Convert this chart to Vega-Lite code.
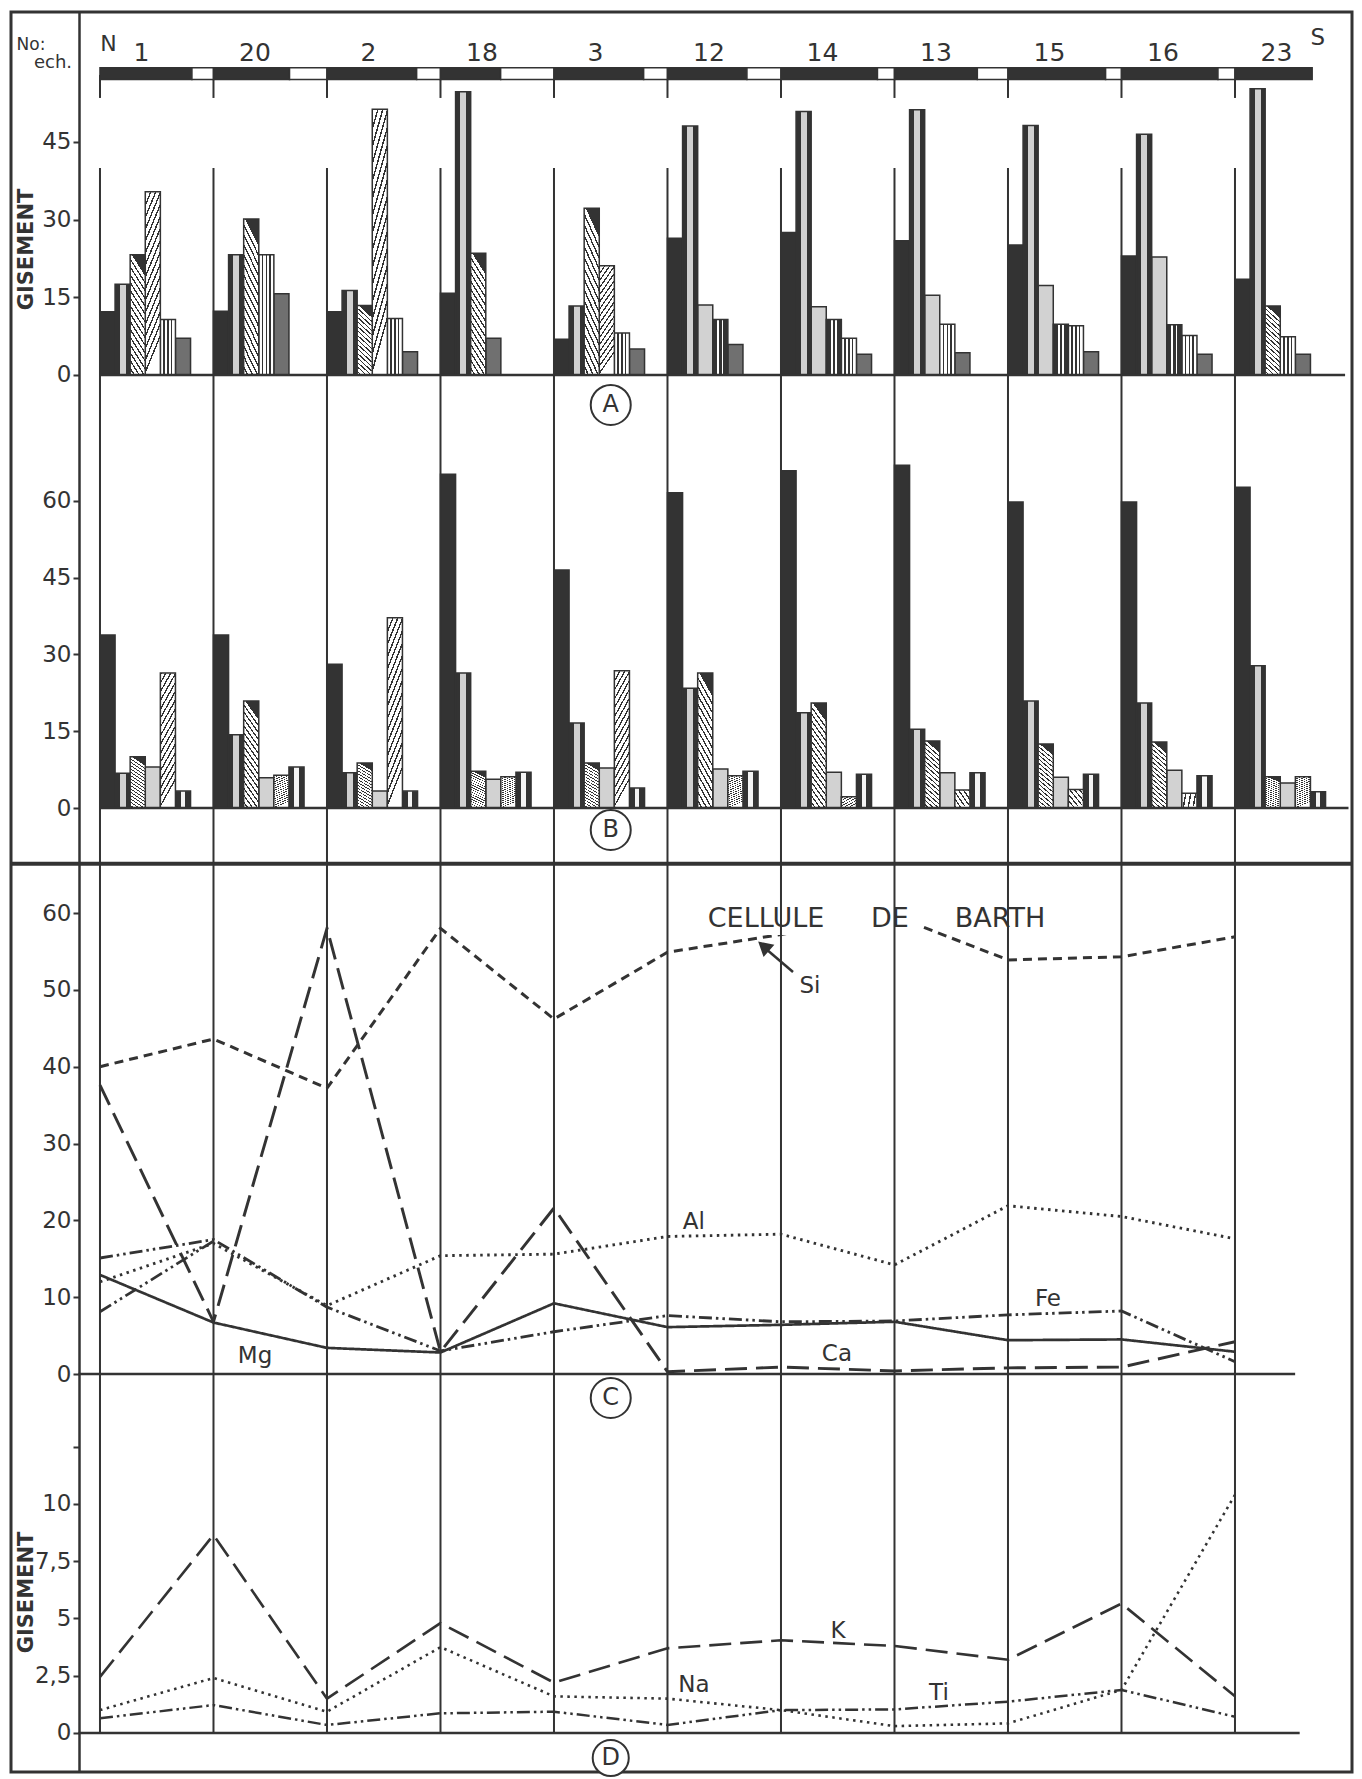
{
"$schema": "https://vega.github.io/schema/vega-lite/v6.json",
"width": 1341, "height": 1760,
"autosize": "none",
"padding": {"left": 11, "top": 12, "right": 10, "bottom": 7},
"background": "#ffffff",
"config": {"view": {"stroke": "#333333", "strokeWidth": 3}, "font": "DejaVu Sans"},
"datasets": {
"ech": [{"ech":"1","i":0},{"ech":"20","i":1},{"ech":"2","i":2},{"ech":"18","i":3},{"ech":"3","i":4},{"ech":"12","i":5},{"ech":"14","i":6},{"ech":"13","i":7},{"ech":"15","i":8},{"ech":"16","i":9},{"ech":"23","i":10}],
"bande": [
{"s":1,"part":"noir","f":0.81},{"s":2,"part":"blanc","f":0.19},
{"s":3,"part":"noir","f":0.67},{"s":4,"part":"blanc","f":0.33},
{"s":5,"part":"noir","f":0.79},{"s":6,"part":"blanc","f":0.21},
{"s":7,"part":"noir","f":0.53},{"s":8,"part":"blanc","f":0.47},
{"s":9,"part":"noir","f":0.79},{"s":10,"part":"blanc","f":0.21},
{"s":11,"part":"noir","f":0.70},{"s":12,"part":"blanc","f":0.30},
{"s":13,"part":"noir","f":0.85},{"s":14,"part":"blanc","f":0.15},
{"s":15,"part":"noir","f":0.73},{"s":16,"part":"blanc","f":0.27},
{"s":17,"part":"noir","f":0.86},{"s":18,"part":"blanc","f":0.14},
{"s":19,"part":"noir","f":0.85},{"s":20,"part":"blanc","f":0.15},
{"s":21,"part":"noir","f":0.68}],
"barres": [
{"p":"A","ech":"1","rang":1,"motif":"noir","v":12.2},{"p":"A","ech":"1","rang":2,"motif":"cercles","v":17.5},{"p":"A","ech":"1","rang":3,"motif":"hach_g","v":23.2},{"p":"A","ech":"1","rang":4,"motif":"hach_d","v":35.4},{"p":"A","ech":"1","rang":5,"motif":"vert","v":10.7},{"p":"A","ech":"1","rang":6,"motif":"crois","v":7.1},
{"p":"A","ech":"20","rang":1,"motif":"noir","v":12.3},{"p":"A","ech":"20","rang":2,"motif":"cercles","v":23.2},{"p":"A","ech":"20","rang":3,"motif":"hach_g","v":30.1},{"p":"A","ech":"20","rang":4,"motif":"vert","v":23.2},{"p":"A","ech":"20","rang":5,"motif":"crois","v":15.7},
{"p":"A","ech":"2","rang":1,"motif":"noir","v":12.2},{"p":"A","ech":"2","rang":2,"motif":"cercles","v":16.3},{"p":"A","ech":"2","rang":3,"motif":"hach_g","v":13.4},{"p":"A","ech":"2","rang":4,"motif":"hach_d","v":51.3},{"p":"A","ech":"2","rang":5,"motif":"vert","v":10.9},{"p":"A","ech":"2","rang":6,"motif":"crois","v":4.5},
{"p":"A","ech":"18","rang":1,"motif":"noir","v":15.8},{"p":"A","ech":"18","rang":2,"motif":"cercles","v":54.7},{"p":"A","ech":"18","rang":3,"motif":"hach_g","v":23.5},{"p":"A","ech":"18","rang":4,"motif":"crois","v":7.1},
{"p":"A","ech":"3","rang":1,"motif":"noir","v":6.9},{"p":"A","ech":"3","rang":2,"motif":"cercles","v":13.3},{"p":"A","ech":"3","rang":3,"motif":"hach_g","v":32.2},{"p":"A","ech":"3","rang":4,"motif":"hach_d","v":21.1},{"p":"A","ech":"3","rang":5,"motif":"vert","v":8.1},{"p":"A","ech":"3","rang":6,"motif":"crois","v":5.0},
{"p":"A","ech":"12","rang":1,"motif":"noir","v":26.4},{"p":"A","ech":"12","rang":2,"motif":"cercles","v":48.1},{"p":"A","ech":"12","rang":3,"motif":"point","v":13.5},{"p":"A","ech":"12","rang":4,"motif":"vert_s","v":10.7},{"p":"A","ech":"12","rang":5,"motif":"crois","v":5.9},
{"p":"A","ech":"14","rang":1,"motif":"noir","v":27.5},{"p":"A","ech":"14","rang":2,"motif":"cercles","v":50.9},{"p":"A","ech":"14","rang":3,"motif":"point","v":13.2},{"p":"A","ech":"14","rang":4,"motif":"vert_s","v":10.7},{"p":"A","ech":"14","rang":5,"motif":"vert","v":7.1},{"p":"A","ech":"14","rang":6,"motif":"crois","v":4.0},
{"p":"A","ech":"13","rang":1,"motif":"noir","v":25.9},{"p":"A","ech":"13","rang":2,"motif":"cercles","v":51.2},{"p":"A","ech":"13","rang":3,"motif":"point","v":15.4},{"p":"A","ech":"13","rang":4,"motif":"vert","v":9.8},{"p":"A","ech":"13","rang":5,"motif":"crois","v":4.3},
{"p":"A","ech":"15","rang":1,"motif":"noir","v":25.1},{"p":"A","ech":"15","rang":2,"motif":"cercles","v":48.2},{"p":"A","ech":"15","rang":3,"motif":"point","v":17.3},{"p":"A","ech":"15","rang":4,"motif":"vert_s","v":9.8},{"p":"A","ech":"15","rang":5,"motif":"vert","v":9.5},{"p":"A","ech":"15","rang":6,"motif":"crois","v":4.5},
{"p":"A","ech":"16","rang":1,"motif":"noir","v":23.0},{"p":"A","ech":"16","rang":2,"motif":"cercles","v":46.5},{"p":"A","ech":"16","rang":3,"motif":"point","v":22.8},{"p":"A","ech":"16","rang":4,"motif":"vert_s","v":9.7},{"p":"A","ech":"16","rang":5,"motif":"vert","v":7.6},{"p":"A","ech":"16","rang":6,"motif":"crois","v":4.0},
{"p":"A","ech":"23","rang":1,"motif":"noir","v":18.5},{"p":"A","ech":"23","rang":2,"motif":"cercles","v":55.3},{"p":"A","ech":"23","rang":3,"motif":"hach_g","v":13.3},{"p":"A","ech":"23","rang":4,"motif":"vert","v":7.4},{"p":"A","ech":"23","rang":5,"motif":"crois","v":4.0},
{"p":"B","ech":"1","rang":1,"motif":"noir","v":33.8},{"p":"B","ech":"1","rang":2,"motif":"cercles","v":6.8},{"p":"B","ech":"1","rang":3,"motif":"hach_g","v":10.0},{"p":"B","ech":"1","rang":4,"motif":"point","v":8.0},{"p":"B","ech":"1","rang":5,"motif":"hach_d","v":26.4},{"p":"B","ech":"1","rang":6,"motif":"chaine","v":3.3},
{"p":"B","ech":"20","rang":1,"motif":"noir","v":33.8},{"p":"B","ech":"20","rang":2,"motif":"cercles","v":14.3},{"p":"B","ech":"20","rang":3,"motif":"hach_g","v":20.9},{"p":"B","ech":"20","rang":4,"motif":"point","v":5.9},{"p":"B","ech":"20","rang":5,"motif":"hach_d","v":6.4},{"p":"B","ech":"20","rang":6,"motif":"chaine","v":8.0},
{"p":"B","ech":"2","rang":1,"motif":"noir","v":28.1},{"p":"B","ech":"2","rang":2,"motif":"cercles","v":6.9},{"p":"B","ech":"2","rang":3,"motif":"hach_g","v":8.8},{"p":"B","ech":"2","rang":4,"motif":"point","v":3.3},{"p":"B","ech":"2","rang":5,"motif":"hach_d","v":37.2},{"p":"B","ech":"2","rang":6,"motif":"chaine","v":3.3},
{"p":"B","ech":"18","rang":1,"motif":"noir","v":65.2},{"p":"B","ech":"18","rang":2,"motif":"cercles","v":26.4},{"p":"B","ech":"18","rang":3,"motif":"hach_g","v":7.2},{"p":"B","ech":"18","rang":4,"motif":"point","v":5.6},{"p":"B","ech":"18","rang":5,"motif":"hach_d","v":6.1},{"p":"B","ech":"18","rang":6,"motif":"chaine","v":7.0},
{"p":"B","ech":"3","rang":1,"motif":"noir","v":46.5},{"p":"B","ech":"3","rang":2,"motif":"cercles","v":16.6},{"p":"B","ech":"3","rang":3,"motif":"hach_g","v":8.8},{"p":"B","ech":"3","rang":4,"motif":"point","v":7.8},{"p":"B","ech":"3","rang":5,"motif":"hach_d","v":26.8},{"p":"B","ech":"3","rang":6,"motif":"chaine","v":3.9},
{"p":"B","ech":"12","rang":1,"motif":"noir","v":61.6},{"p":"B","ech":"12","rang":2,"motif":"cercles","v":23.4},{"p":"B","ech":"12","rang":3,"motif":"hach_g","v":26.4},{"p":"B","ech":"12","rang":4,"motif":"point","v":7.6},{"p":"B","ech":"12","rang":5,"motif":"hach_d","v":6.3},{"p":"B","ech":"12","rang":6,"motif":"chaine","v":7.2},
{"p":"B","ech":"14","rang":1,"motif":"noir","v":65.9},{"p":"B","ech":"14","rang":2,"motif":"cercles","v":18.6},{"p":"B","ech":"14","rang":3,"motif":"hach_g","v":20.5},{"p":"B","ech":"14","rang":4,"motif":"point","v":7.0},{"p":"B","ech":"14","rang":5,"motif":"hach_d","v":2.2},{"p":"B","ech":"14","rang":6,"motif":"chaine","v":6.6},
{"p":"B","ech":"13","rang":1,"motif":"noir","v":67.0},{"p":"B","ech":"13","rang":2,"motif":"cercles","v":15.4},{"p":"B","ech":"13","rang":3,"motif":"hach_g","v":13.1},{"p":"B","ech":"13","rang":4,"motif":"point","v":6.9},{"p":"B","ech":"13","rang":5,"motif":"hach_d","v":3.5},{"p":"B","ech":"13","rang":6,"motif":"chaine","v":6.9},
{"p":"B","ech":"15","rang":1,"motif":"noir","v":59.8},{"p":"B","ech":"15","rang":2,"motif":"cercles","v":20.9},{"p":"B","ech":"15","rang":3,"motif":"hach_g","v":12.5},{"p":"B","ech":"15","rang":4,"motif":"point","v":6.0},{"p":"B","ech":"15","rang":5,"motif":"hach_d","v":3.6},{"p":"B","ech":"15","rang":6,"motif":"chaine","v":6.6},
{"p":"B","ech":"16","rang":1,"motif":"noir","v":59.8},{"p":"B","ech":"16","rang":2,"motif":"cercles","v":20.5},{"p":"B","ech":"16","rang":3,"motif":"hach_g","v":12.9},{"p":"B","ech":"16","rang":4,"motif":"point","v":7.4},{"p":"B","ech":"16","rang":5,"motif":"hach_d","v":2.9},{"p":"B","ech":"16","rang":6,"motif":"chaine","v":6.3},
{"p":"B","ech":"23","rang":1,"motif":"noir","v":62.7},{"p":"B","ech":"23","rang":2,"motif":"cercles","v":27.8},{"p":"B","ech":"23","rang":3,"motif":"hach_g","v":6.1},{"p":"B","ech":"23","rang":4,"motif":"point","v":4.9},{"p":"B","ech":"23","rang":5,"motif":"hach_d","v":6.1},{"p":"B","ech":"23","rang":6,"motif":"chaine","v":3.2}],
"courbes": [
{"p":"C","el":"Si","ech":"1","i":0,"v":40.0},{"p":"C","el":"Si","ech":"20","i":1,"v":43.6},{"p":"C","el":"Si","ech":"2","i":2,"v":37.2},{"p":"C","el":"Si","ech":"18","i":3,"v":58.0},{"p":"C","el":"Si","ech":"3","i":4,"v":46.2},{"p":"C","el":"Si","ech":"12","i":5,"v":54.9},{"p":"C","el":"Si","ech":"14","i":6,"v":57.2},{"p":"C","el":"Si","ech":"13","i":7,"v":59.6},{"p":"C","el":"Si","ech":"15","i":8,"v":53.9},{"p":"C","el":"Si","ech":"16","i":9,"v":54.3},{"p":"C","el":"Si","ech":"23","i":10,"v":56.9},
{"p":"C","el":"Ca","ech":"1","i":0,"v":37.6},{"p":"C","el":"Ca","ech":"20","i":1,"v":6.8},{"p":"C","el":"Ca","ech":"2","i":2,"v":58.0},{"p":"C","el":"Ca","ech":"18","i":3,"v":2.9},{"p":"C","el":"Ca","ech":"3","i":4,"v":21.6},{"p":"C","el":"Ca","ech":"12","i":5,"v":0.3},{"p":"C","el":"Ca","ech":"14","i":6,"v":0.9},{"p":"C","el":"Ca","ech":"13","i":7,"v":0.4},{"p":"C","el":"Ca","ech":"15","i":8,"v":0.8},{"p":"C","el":"Ca","ech":"16","i":9,"v":0.9},{"p":"C","el":"Ca","ech":"23","i":10,"v":4.2},
{"p":"C","el":"Al","ech":"1","i":0,"v":12.0},{"p":"C","el":"Al","ech":"20","i":1,"v":17.0},{"p":"C","el":"Al","ech":"2","i":2,"v":8.9},{"p":"C","el":"Al","ech":"18","i":3,"v":15.4},{"p":"C","el":"Al","ech":"3","i":4,"v":15.6},{"p":"C","el":"Al","ech":"12","i":5,"v":17.9},{"p":"C","el":"Al","ech":"14","i":6,"v":18.2},{"p":"C","el":"Al","ech":"13","i":7,"v":14.2},{"p":"C","el":"Al","ech":"15","i":8,"v":21.9},{"p":"C","el":"Al","ech":"16","i":9,"v":20.5},{"p":"C","el":"Al","ech":"23","i":10,"v":17.6},
{"p":"C","el":"Fe","ech":"1","i":0,"v":15.1},{"p":"C","el":"Fe","ech":"20","i":1,"v":17.5},{"p":"C","el":"Fe","ech":"2","i":2,"v":8.7},{"p":"C","el":"Fe","ech":"18","i":3,"v":3.0},{"p":"C","el":"Fe","ech":"3","i":4,"v":5.5},{"p":"C","el":"Fe","ech":"12","i":5,"v":7.6},{"p":"C","el":"Fe","ech":"14","i":6,"v":6.8},{"p":"C","el":"Fe","ech":"13","i":7,"v":6.9},{"p":"C","el":"Fe","ech":"15","i":8,"v":7.7},{"p":"C","el":"Fe","ech":"16","i":9,"v":8.2},{"p":"C","el":"Fe","ech":"23","i":10,"v":1.6},
{"p":"C","el":"Fe2","ech":"1","i":0,"v":8.1},{"p":"C","el":"Fe2","ech":"20","i":1,"v":17.3},
{"p":"C","el":"Mg","ech":"1","i":0,"v":12.9},{"p":"C","el":"Mg","ech":"20","i":1,"v":6.7},{"p":"C","el":"Mg","ech":"2","i":2,"v":3.4},{"p":"C","el":"Mg","ech":"18","i":3,"v":2.8},{"p":"C","el":"Mg","ech":"3","i":4,"v":9.2},{"p":"C","el":"Mg","ech":"12","i":5,"v":6.1},{"p":"C","el":"Mg","ech":"14","i":6,"v":6.4},{"p":"C","el":"Mg","ech":"13","i":7,"v":6.8},{"p":"C","el":"Mg","ech":"15","i":8,"v":4.4},{"p":"C","el":"Mg","ech":"16","i":9,"v":4.5},{"p":"C","el":"Mg","ech":"23","i":10,"v":2.9},
{"p":"D","el":"K","ech":"1","i":0,"v":2.45},{"p":"D","el":"K","ech":"20","i":1,"v":8.65},{"p":"D","el":"K","ech":"2","i":2,"v":1.5},{"p":"D","el":"K","ech":"18","i":3,"v":4.8},{"p":"D","el":"K","ech":"3","i":4,"v":2.2},{"p":"D","el":"K","ech":"12","i":5,"v":3.7},{"p":"D","el":"K","ech":"14","i":6,"v":4.05},{"p":"D","el":"K","ech":"13","i":7,"v":3.8},{"p":"D","el":"K","ech":"15","i":8,"v":3.2},{"p":"D","el":"K","ech":"16","i":9,"v":5.65},{"p":"D","el":"K","ech":"23","i":10,"v":1.6},
{"p":"D","el":"Na","ech":"1","i":0,"v":1.0},{"p":"D","el":"Na","ech":"20","i":1,"v":2.4},{"p":"D","el":"Na","ech":"2","i":2,"v":0.93},{"p":"D","el":"Na","ech":"18","i":3,"v":3.75},{"p":"D","el":"Na","ech":"3","i":4,"v":1.6},{"p":"D","el":"Na","ech":"12","i":5,"v":1.5},{"p":"D","el":"Na","ech":"14","i":6,"v":1.0},{"p":"D","el":"Na","ech":"13","i":7,"v":0.3},{"p":"D","el":"Na","ech":"15","i":8,"v":0.42},{"p":"D","el":"Na","ech":"16","i":9,"v":1.88},{"p":"D","el":"Na","ech":"23","i":10,"v":10.4},
{"p":"D","el":"Ti","ech":"1","i":0,"v":0.64},{"p":"D","el":"Ti","ech":"20","i":1,"v":1.22},{"p":"D","el":"Ti","ech":"2","i":2,"v":0.35},{"p":"D","el":"Ti","ech":"18","i":3,"v":0.86},{"p":"D","el":"Ti","ech":"3","i":4,"v":0.93},{"p":"D","el":"Ti","ech":"12","i":5,"v":0.35},{"p":"D","el":"Ti","ech":"14","i":6,"v":1.0},{"p":"D","el":"Ti","ech":"13","i":7,"v":1.03},{"p":"D","el":"Ti","ech":"15","i":8,"v":1.37},{"p":"D","el":"Ti","ech":"16","i":9,"v":1.88},{"p":"D","el":"Ti","ech":"23","i":10,"v":0.71}]
},
"layer": [
{
"resolve": {"scale": {"y": "independent"}},
"layer": [
{
"layer": [
{"data":{"name":"barres"},"transform":[{"filter":"datum.p == 'A' && (datum.motif == 'noir' || datum.motif == 'point' || datum.motif == 'crois')"}],
 "mark":{"type":"bar","stroke":"#333333","strokeWidth":1.5},
 "encoding":{
  "x":{"field":"ech","type":"nominal","scale":{"type":"band","domain":["1","20","2","18","3","12","14","13","15","16","23"],"paddingInner":0,"paddingOuter":0.4075,"align":0.962},"axis":null},
  "xOffset":{"field":"rang","type":"ordinal","scale":{"type":"band","domain":[1,2,3,4,5,6],"paddingInner":0,"paddingOuter":0.76,"align":0}},
  "y":{"field":"v","type":"quantitative","scale":{"domain":[-269.8,70.1],"nice":false,"zero":false},
   "axis":{"orient":"left","offset":-68,"values":[0,15,30,45],"format":".0f","title":"GISEMENT","titleX":-53,"titleY":237,"titleAngle":270,"titleAlign":"center","titleBaseline":"middle","titleFontSize":21,"titleFontWeight":"bold","titleFont":"DejaVu Sans","titleColor":"#333333","labelFontSize":23,"labelFont":"DejaVu Sans","labelColor":"#333333","labelPadding":2,"tickSize":6,"tickWidth":2,"tickColor":"#333333","domain":true,"domainColor":"#333333","domainWidth":2.5,"grid":false}},
  "y2":{"datum":0},
  "fill":{"field":"motif","type":"nominal","scale":{"domain":["noir","point","crois"],"range":["#333333","#d2d2d2","#707070"]},"legend":null}}},
{"data":{"name":"barres"},"transform":[{"filter":"datum.p == 'A' && datum.motif == 'cercles'"}],
 "mark":{"type":"bar","stroke":"#333333","strokeWidth":1.5,"fill":{"gradient":"linear","x1":0,"y1":0,"x2":1,"y2":0,"stops":[{"offset":0,"color":"#333333"},{"offset":0.3,"color":"#333333"},{"offset":0.3,"color":"#d0d0d0"},{"offset":0.7,"color":"#d0d0d0"},{"offset":0.7,"color":"#333333"},{"offset":1,"color":"#333333"}]}},
 "encoding":{
  "x":{"field":"ech","type":"nominal","scale":{"type":"band","domain":["1","20","2","18","3","12","14","13","15","16","23"],"paddingInner":0,"paddingOuter":0.4075,"align":0.962},"axis":null},
  "xOffset":{"field":"rang","type":"ordinal","scale":{"type":"band","domain":[1,2,3,4,5,6],"paddingInner":0,"paddingOuter":0.76,"align":0}},
  "y":{"field":"v","type":"quantitative","scale":{"domain":[-269.8,70.1],"nice":false,"zero":false}},
  "y2":{"datum":0}}},
{"data":{"name":"barres"},"transform":[{"filter":"datum.p == 'A' && datum.motif == 'vert'"}],
 "mark":{"type":"bar","stroke":"#333333","strokeWidth":1.5,"fill":{"gradient":"linear","x1":0,"y1":0,"x2":1,"y2":0,"stops":[{"offset":0,"color":"#ffffff"},{"offset":0.2,"color":"#ffffff"},{"offset":0.2,"color":"#333333"},{"offset":0.3,"color":"#333333"},{"offset":0.3,"color":"#ffffff"},{"offset":0.45,"color":"#ffffff"},{"offset":0.45,"color":"#333333"},{"offset":0.55,"color":"#333333"},{"offset":0.55,"color":"#ffffff"},{"offset":0.7,"color":"#ffffff"},{"offset":0.7,"color":"#333333"},{"offset":0.8,"color":"#333333"},{"offset":0.8,"color":"#ffffff"},{"offset":1,"color":"#ffffff"}]}},
 "encoding":{
  "x":{"field":"ech","type":"nominal","scale":{"type":"band","domain":["1","20","2","18","3","12","14","13","15","16","23"],"paddingInner":0,"paddingOuter":0.4075,"align":0.962},"axis":null},
  "xOffset":{"field":"rang","type":"ordinal","scale":{"type":"band","domain":[1,2,3,4,5,6],"paddingInner":0,"paddingOuter":0.76,"align":0}},
  "y":{"field":"v","type":"quantitative","scale":{"domain":[-269.8,70.1],"nice":false,"zero":false}},
  "y2":{"datum":0}}},
{"data":{"name":"barres"},"transform":[{"filter":"datum.p == 'A' && datum.motif == 'vert_s'"}],
 "mark":{"type":"bar","stroke":"#333333","strokeWidth":1.5,"fill":{"gradient":"linear","x1":0,"y1":0,"x2":1,"y2":0,"stops":[{"offset":0,"color":"#333333"},{"offset":0.3,"color":"#333333"},{"offset":0.3,"color":"#ffffff"},{"offset":0.42,"color":"#ffffff"},{"offset":0.42,"color":"#333333"},{"offset":0.58,"color":"#333333"},{"offset":0.58,"color":"#ffffff"},{"offset":0.7,"color":"#ffffff"},{"offset":0.7,"color":"#333333"},{"offset":1,"color":"#333333"}]}},
 "encoding":{
  "x":{"field":"ech","type":"nominal","scale":{"type":"band","domain":["1","20","2","18","3","12","14","13","15","16","23"],"paddingInner":0,"paddingOuter":0.4075,"align":0.962},"axis":null},
  "xOffset":{"field":"rang","type":"ordinal","scale":{"type":"band","domain":[1,2,3,4,5,6],"paddingInner":0,"paddingOuter":0.76,"align":0}},
  "y":{"field":"v","type":"quantitative","scale":{"domain":[-269.8,70.1],"nice":false,"zero":false}},
  "y2":{"datum":0}}},
{"data":{"name":"barres"},"transform":[{"filter":"datum.p == 'A' && datum.motif == 'hach_d'"}],
 "mark":{"type":"bar","stroke":"#333333","strokeWidth":1.5,"fill":{"gradient":"linear","x1":0,"y1":0,"x2":0.2,"y2":1,"stops":[{"offset":0,"color":"#333333"},{"offset":0.01875,"color":"#333333"},{"offset":0.01875,"color":"#ffffff"},{"offset":0.0625,"color":"#ffffff"},{"offset":0.0625,"color":"#333333"},{"offset":0.08125,"color":"#333333"},{"offset":0.08125,"color":"#ffffff"},{"offset":0.125,"color":"#ffffff"},{"offset":0.125,"color":"#333333"},{"offset":0.14375,"color":"#333333"},{"offset":0.14375,"color":"#ffffff"},{"offset":0.1875,"color":"#ffffff"},{"offset":0.1875,"color":"#333333"},{"offset":0.20625,"color":"#333333"},{"offset":0.20625,"color":"#ffffff"},{"offset":0.25,"color":"#ffffff"},{"offset":0.25,"color":"#333333"},{"offset":0.26875,"color":"#333333"},{"offset":0.26875,"color":"#ffffff"},{"offset":0.3125,"color":"#ffffff"},{"offset":0.3125,"color":"#333333"},{"offset":0.33125,"color":"#333333"},{"offset":0.33125,"color":"#ffffff"},{"offset":0.375,"color":"#ffffff"},{"offset":0.375,"color":"#333333"},{"offset":0.39375,"color":"#333333"},{"offset":0.39375,"color":"#ffffff"},{"offset":0.4375,"color":"#ffffff"},{"offset":0.4375,"color":"#333333"},{"offset":0.45625,"color":"#333333"},{"offset":0.45625,"color":"#ffffff"},{"offset":0.5,"color":"#ffffff"},{"offset":0.5,"color":"#333333"},{"offset":0.51875,"color":"#333333"},{"offset":0.51875,"color":"#ffffff"},{"offset":0.5625,"color":"#ffffff"},{"offset":0.5625,"color":"#333333"},{"offset":0.58125,"color":"#333333"},{"offset":0.58125,"color":"#ffffff"},{"offset":0.625,"color":"#ffffff"},{"offset":0.625,"color":"#333333"},{"offset":0.64375,"color":"#333333"},{"offset":0.64375,"color":"#ffffff"},{"offset":0.6875,"color":"#ffffff"},{"offset":0.6875,"color":"#333333"},{"offset":0.70625,"color":"#333333"},{"offset":0.70625,"color":"#ffffff"},{"offset":0.75,"color":"#ffffff"},{"offset":0.75,"color":"#333333"},{"offset":0.76875,"color":"#333333"},{"offset":0.76875,"color":"#ffffff"},{"offset":0.8125,"color":"#ffffff"},{"offset":0.8125,"color":"#333333"},{"offset":0.83125,"color":"#333333"},{"offset":0.83125,"color":"#ffffff"},{"offset":0.875,"color":"#ffffff"},{"offset":0.875,"color":"#333333"},{"offset":0.89375,"color":"#333333"},{"offset":0.89375,"color":"#ffffff"},{"offset":0.9375,"color":"#ffffff"},{"offset":0.9375,"color":"#333333"},{"offset":0.95625,"color":"#333333"},{"offset":0.95625,"color":"#ffffff"},{"offset":1,"color":"#ffffff"}]}},
 "encoding":{
  "x":{"field":"ech","type":"nominal","scale":{"type":"band","domain":["1","20","2","18","3","12","14","13","15","16","23"],"paddingInner":0,"paddingOuter":0.4075,"align":0.962},"axis":null},
  "xOffset":{"field":"rang","type":"ordinal","scale":{"type":"band","domain":[1,2,3,4,5,6],"paddingInner":0,"paddingOuter":0.76,"align":0}},
  "y":{"field":"v","type":"quantitative","scale":{"domain":[-269.8,70.1],"nice":false,"zero":false}},
  "y2":{"datum":0}}},
{"data":{"name":"barres"},"transform":[{"filter":"datum.p == 'A' && datum.motif == 'hach_g'"}],
 "mark":{"type":"bar","stroke":"#333333","strokeWidth":1.5,"fill":{"gradient":"linear","x1":0.2,"y1":0,"x2":0,"y2":1,"stops":[{"offset":0,"color":"#333333"},{"offset":0.01875,"color":"#333333"},{"offset":0.01875,"color":"#ffffff"},{"offset":0.0625,"color":"#ffffff"},{"offset":0.0625,"color":"#333333"},{"offset":0.08125,"color":"#333333"},{"offset":0.08125,"color":"#ffffff"},{"offset":0.125,"color":"#ffffff"},{"offset":0.125,"color":"#333333"},{"offset":0.14375,"color":"#333333"},{"offset":0.14375,"color":"#ffffff"},{"offset":0.1875,"color":"#ffffff"},{"offset":0.1875,"color":"#333333"},{"offset":0.20625,"color":"#333333"},{"offset":0.20625,"color":"#ffffff"},{"offset":0.25,"color":"#ffffff"},{"offset":0.25,"color":"#333333"},{"offset":0.26875,"color":"#333333"},{"offset":0.26875,"color":"#ffffff"},{"offset":0.3125,"color":"#ffffff"},{"offset":0.3125,"color":"#333333"},{"offset":0.33125,"color":"#333333"},{"offset":0.33125,"color":"#ffffff"},{"offset":0.375,"color":"#ffffff"},{"offset":0.375,"color":"#333333"},{"offset":0.39375,"color":"#333333"},{"offset":0.39375,"color":"#ffffff"},{"offset":0.4375,"color":"#ffffff"},{"offset":0.4375,"color":"#333333"},{"offset":0.45625,"color":"#333333"},{"offset":0.45625,"color":"#ffffff"},{"offset":0.5,"color":"#ffffff"},{"offset":0.5,"color":"#333333"},{"offset":0.51875,"color":"#333333"},{"offset":0.51875,"color":"#ffffff"},{"offset":0.5625,"color":"#ffffff"},{"offset":0.5625,"color":"#333333"},{"offset":0.58125,"color":"#333333"},{"offset":0.58125,"color":"#ffffff"},{"offset":0.625,"color":"#ffffff"},{"offset":0.625,"color":"#333333"},{"offset":0.64375,"color":"#333333"},{"offset":0.64375,"color":"#ffffff"},{"offset":0.6875,"color":"#ffffff"},{"offset":0.6875,"color":"#333333"},{"offset":0.70625,"color":"#333333"},{"offset":0.70625,"color":"#ffffff"},{"offset":0.75,"color":"#ffffff"},{"offset":0.75,"color":"#333333"},{"offset":0.76875,"color":"#333333"},{"offset":0.76875,"color":"#ffffff"},{"offset":0.8125,"color":"#ffffff"},{"offset":0.8125,"color":"#333333"},{"offset":0.83125,"color":"#333333"},{"offset":0.83125,"color":"#ffffff"},{"offset":0.875,"color":"#ffffff"},{"offset":0.875,"color":"#333333"},{"offset":0.89375,"color":"#333333"},{"offset":0.89375,"color":"#ffffff"},{"offset":0.9375,"color":"#ffffff"},{"offset":0.9375,"color":"#333333"},{"offset":0.95625,"color":"#333333"},{"offset":0.95625,"color":"#ffffff"},{"offset":1,"color":"#ffffff"}]}},
 "encoding":{
  "x":{"field":"ech","type":"nominal","scale":{"type":"band","domain":["1","20","2","18","3","12","14","13","15","16","23"],"paddingInner":0,"paddingOuter":0.4075,"align":0.962},"axis":null},
  "xOffset":{"field":"rang","type":"ordinal","scale":{"type":"band","domain":[1,2,3,4,5,6],"paddingInner":0,"paddingOuter":0.76,"align":0}},
  "y":{"field":"v","type":"quantitative","scale":{"domain":[-269.8,70.1],"nice":false,"zero":false}},
  "y2":{"datum":0}}},
{"data":{"values":[{}]},"mark":{"type":"rule","stroke":"#333333","strokeWidth":2.5},
 "encoding":{
  "x":{"datum":"1","type":"nominal","bandPosition":0,"scale":{"type":"band","domain":["1","20","2","18","3","12","14","13","15","16","23"],"paddingInner":0,"paddingOuter":0.4075,"align":0.962},"axis":null},
  "x2":{"datum":"23","bandPosition":0.97},
  "y":{"datum":0,"type":"quantitative","scale":{"domain":[-269.8,70.1],"nice":false,"zero":false}}}},
{"data":{"name":"ech"},"mark":{"type":"rule","stroke":"#333333","strokeWidth":2},
 "encoding":{
  "x":{"field":"ech","type":"nominal","bandPosition":0,"scale":{"type":"band","domain":["1","20","2","18","3","12","14","13","15","16","23"],"paddingInner":0,"paddingOuter":0.4075,"align":0.962},"axis":null},
  "y":{"datum":57.94,"type":"quantitative","scale":{"domain":[-269.8,70.1],"nice":false,"zero":false}},
  "y2":{"datum":53.5}}},
{"data":{"name":"ech"},"mark":{"type":"text","fontSize":25,"color":"#333333","align":"center","baseline":"middle","font":"DejaVu Sans"},
 "encoding":{
  "x":{"field":"ech","type":"nominal","bandPosition":0.366,"scale":{"type":"band","domain":["1","20","2","18","3","12","14","13","15","16","23"],"paddingInner":0,"paddingOuter":0.4075,"align":0.962},"axis":null},
  "y":{"datum":62.09,"type":"quantitative","scale":{"domain":[-269.8,70.1],"nice":false,"zero":false}},
  "text":{"field":"ech"}}},
{"data":{"values":[{"t":"A"}]},"mark":{"type":"point","shape":"circle","size":1600,"filled":true,"fill":"#ffffff","stroke":"#333333","strokeWidth":2,"opacity":1},
 "encoding":{
  "x":{"datum":"3","type":"nominal","bandPosition":0.5,"scale":{"type":"band","domain":["1","20","2","18","3","12","14","13","15","16","23"],"paddingInner":0,"paddingOuter":0.4075,"align":0.962},"axis":null},
  "y":{"datum":-5.79,"type":"quantitative","scale":{"domain":[-269.8,70.1],"nice":false,"zero":false}}}},
{"data":{"values":[{"t":"A"}]},"mark":{"type":"text","fontSize":24,"color":"#333333","align":"center","baseline":"middle"},
 "encoding":{
  "x":{"datum":"3","type":"nominal","bandPosition":0.5,"scale":{"type":"band","domain":["1","20","2","18","3","12","14","13","15","16","23"],"paddingInner":0,"paddingOuter":0.4075,"align":0.962},"axis":null},
  "y":{"datum":-5.79,"type":"quantitative","scale":{"domain":[-269.8,70.1],"nice":false,"zero":false}},
  "text":{"field":"t"}}}
]
},
{
"layer": [
{"data":{"name":"barres"},"transform":[{"filter":"datum.p == 'B' && (datum.motif == 'noir' || datum.motif == 'point' || datum.motif == 'crois')"}],
 "mark":{"type":"bar","stroke":"#333333","strokeWidth":1.5},
 "encoding":{
  "x":{"field":"ech","type":"nominal","scale":{"type":"band","domain":["1","20","2","18","3","12","14","13","15","16","23"],"paddingInner":0,"paddingOuter":0.4075,"align":0.962},"axis":null},
  "xOffset":{"field":"rang","type":"ordinal","scale":{"type":"band","domain":[1,2,3,4,5,6],"paddingInner":0,"paddingOuter":0.76,"align":0}},
  "y":{"field":"v","type":"quantitative","scale":{"domain":[-188.39,155.56],"nice":false,"zero":false},
   "axis":{"orient":"left","offset":-68,"values":[0,15,30,45,60],"format":".0f","title":null,"labelFontSize":23,"labelFont":"DejaVu Sans","labelColor":"#333333","labelPadding":2,"tickSize":6,"tickWidth":2,"tickColor":"#333333","domain":false,"grid":false}},
  "y2":{"datum":0},
  "fill":{"field":"motif","type":"nominal","scale":{"domain":["noir","point","crois"],"range":["#333333","#d2d2d2","#707070"]},"legend":null}}},
{"data":{"name":"barres"},"transform":[{"filter":"datum.p == 'B' && datum.motif == 'cercles'"}],
 "mark":{"type":"bar","stroke":"#333333","strokeWidth":1.5,"fill":{"gradient":"linear","x1":0,"y1":0,"x2":1,"y2":0,"stops":[{"offset":0,"color":"#333333"},{"offset":0.3,"color":"#333333"},{"offset":0.3,"color":"#d0d0d0"},{"offset":0.7,"color":"#d0d0d0"},{"offset":0.7,"color":"#333333"},{"offset":1,"color":"#333333"}]}},
 "encoding":{
  "x":{"field":"ech","type":"nominal","scale":{"type":"band","domain":["1","20","2","18","3","12","14","13","15","16","23"],"paddingInner":0,"paddingOuter":0.4075,"align":0.962},"axis":null},
  "xOffset":{"field":"rang","type":"ordinal","scale":{"type":"band","domain":[1,2,3,4,5,6],"paddingInner":0,"paddingOuter":0.76,"align":0}},
  "y":{"field":"v","type":"quantitative","scale":{"domain":[-188.39,155.56],"nice":false,"zero":false}},
  "y2":{"datum":0}}},
{"data":{"name":"barres"},"transform":[{"filter":"datum.p == 'B' && datum.motif == 'chaine'"}],
 "mark":{"type":"bar","stroke":"#333333","strokeWidth":1.5,"fill":{"gradient":"linear","x1":0,"y1":0,"x2":1,"y2":0,"stops":[{"offset":0,"color":"#333333"},{"offset":0.36,"color":"#333333"},{"offset":0.36,"color":"#f4f4f4"},{"offset":0.64,"color":"#f4f4f4"},{"offset":0.64,"color":"#333333"},{"offset":1,"color":"#333333"}]}},
 "encoding":{
  "x":{"field":"ech","type":"nominal","scale":{"type":"band","domain":["1","20","2","18","3","12","14","13","15","16","23"],"paddingInner":0,"paddingOuter":0.4075,"align":0.962},"axis":null},
  "xOffset":{"field":"rang","type":"ordinal","scale":{"type":"band","domain":[1,2,3,4,5,6],"paddingInner":0,"paddingOuter":0.76,"align":0}},
  "y":{"field":"v","type":"quantitative","scale":{"domain":[-188.39,155.56],"nice":false,"zero":false}},
  "y2":{"datum":0}}},
{"data":{"name":"barres"},"transform":[{"filter":"datum.p == 'B' && datum.motif == 'hach_d'"}],
 "mark":{"type":"bar","stroke":"#333333","strokeWidth":1.5,"fill":{"gradient":"linear","x1":0,"y1":0,"x2":0.2,"y2":1,"stops":[{"offset":0,"color":"#333333"},{"offset":0.01875,"color":"#333333"},{"offset":0.01875,"color":"#ffffff"},{"offset":0.0625,"color":"#ffffff"},{"offset":0.0625,"color":"#333333"},{"offset":0.08125,"color":"#333333"},{"offset":0.08125,"color":"#ffffff"},{"offset":0.125,"color":"#ffffff"},{"offset":0.125,"color":"#333333"},{"offset":0.14375,"color":"#333333"},{"offset":0.14375,"color":"#ffffff"},{"offset":0.1875,"color":"#ffffff"},{"offset":0.1875,"color":"#333333"},{"offset":0.20625,"color":"#333333"},{"offset":0.20625,"color":"#ffffff"},{"offset":0.25,"color":"#ffffff"},{"offset":0.25,"color":"#333333"},{"offset":0.26875,"color":"#333333"},{"offset":0.26875,"color":"#ffffff"},{"offset":0.3125,"color":"#ffffff"},{"offset":0.3125,"color":"#333333"},{"offset":0.33125,"color":"#333333"},{"offset":0.33125,"color":"#ffffff"},{"offset":0.375,"color":"#ffffff"},{"offset":0.375,"color":"#333333"},{"offset":0.39375,"color":"#333333"},{"offset":0.39375,"color":"#ffffff"},{"offset":0.4375,"color":"#ffffff"},{"offset":0.4375,"color":"#333333"},{"offset":0.45625,"color":"#333333"},{"offset":0.45625,"color":"#ffffff"},{"offset":0.5,"color":"#ffffff"},{"offset":0.5,"color":"#333333"},{"offset":0.51875,"color":"#333333"},{"offset":0.51875,"color":"#ffffff"},{"offset":0.5625,"color":"#ffffff"},{"offset":0.5625,"color":"#333333"},{"offset":0.58125,"color":"#333333"},{"offset":0.58125,"color":"#ffffff"},{"offset":0.625,"color":"#ffffff"},{"offset":0.625,"color":"#333333"},{"offset":0.64375,"color":"#333333"},{"offset":0.64375,"color":"#ffffff"},{"offset":0.6875,"color":"#ffffff"},{"offset":0.6875,"color":"#333333"},{"offset":0.70625,"color":"#333333"},{"offset":0.70625,"color":"#ffffff"},{"offset":0.75,"color":"#ffffff"},{"offset":0.75,"color":"#333333"},{"offset":0.76875,"color":"#333333"},{"offset":0.76875,"color":"#ffffff"},{"offset":0.8125,"color":"#ffffff"},{"offset":0.8125,"color":"#333333"},{"offset":0.83125,"color":"#333333"},{"offset":0.83125,"color":"#ffffff"},{"offset":0.875,"color":"#ffffff"},{"offset":0.875,"color":"#333333"},{"offset":0.89375,"color":"#333333"},{"offset":0.89375,"color":"#ffffff"},{"offset":0.9375,"color":"#ffffff"},{"offset":0.9375,"color":"#333333"},{"offset":0.95625,"color":"#333333"},{"offset":0.95625,"color":"#ffffff"},{"offset":1,"color":"#ffffff"}]}},
 "encoding":{
  "x":{"field":"ech","type":"nominal","scale":{"type":"band","domain":["1","20","2","18","3","12","14","13","15","16","23"],"paddingInner":0,"paddingOuter":0.4075,"align":0.962},"axis":null},
  "xOffset":{"field":"rang","type":"ordinal","scale":{"type":"band","domain":[1,2,3,4,5,6],"paddingInner":0,"paddingOuter":0.76,"align":0}},
  "y":{"field":"v","type":"quantitative","scale":{"domain":[-188.39,155.56],"nice":false,"zero":false}},
  "y2":{"datum":0}}},
{"data":{"name":"barres"},"transform":[{"filter":"datum.p == 'B' && datum.motif == 'hach_g'"}],
 "mark":{"type":"bar","stroke":"#333333","strokeWidth":1.5,"fill":{"gradient":"linear","x1":0.2,"y1":0,"x2":0,"y2":1,"stops":[{"offset":0,"color":"#333333"},{"offset":0.01875,"color":"#333333"},{"offset":0.01875,"color":"#ffffff"},{"offset":0.0625,"color":"#ffffff"},{"offset":0.0625,"color":"#333333"},{"offset":0.08125,"color":"#333333"},{"offset":0.08125,"color":"#ffffff"},{"offset":0.125,"color":"#ffffff"},{"offset":0.125,"color":"#333333"},{"offset":0.14375,"color":"#333333"},{"offset":0.14375,"color":"#ffffff"},{"offset":0.1875,"color":"#ffffff"},{"offset":0.1875,"color":"#333333"},{"offset":0.20625,"color":"#333333"},{"offset":0.20625,"color":"#ffffff"},{"offset":0.25,"color":"#ffffff"},{"offset":0.25,"color":"#333333"},{"offset":0.26875,"color":"#333333"},{"offset":0.26875,"color":"#ffffff"},{"offset":0.3125,"color":"#ffffff"},{"offset":0.3125,"color":"#333333"},{"offset":0.33125,"color":"#333333"},{"offset":0.33125,"color":"#ffffff"},{"offset":0.375,"color":"#ffffff"},{"offset":0.375,"color":"#333333"},{"offset":0.39375,"color":"#333333"},{"offset":0.39375,"color":"#ffffff"},{"offset":0.4375,"color":"#ffffff"},{"offset":0.4375,"color":"#333333"},{"offset":0.45625,"color":"#333333"},{"offset":0.45625,"color":"#ffffff"},{"offset":0.5,"color":"#ffffff"},{"offset":0.5,"color":"#333333"},{"offset":0.51875,"color":"#333333"},{"offset":0.51875,"color":"#ffffff"},{"offset":0.5625,"color":"#ffffff"},{"offset":0.5625,"color":"#333333"},{"offset":0.58125,"color":"#333333"},{"offset":0.58125,"color":"#ffffff"},{"offset":0.625,"color":"#ffffff"},{"offset":0.625,"color":"#333333"},{"offset":0.64375,"color":"#333333"},{"offset":0.64375,"color":"#ffffff"},{"offset":0.6875,"color":"#ffffff"},{"offset":0.6875,"color":"#333333"},{"offset":0.70625,"color":"#333333"},{"offset":0.70625,"color":"#ffffff"},{"offset":0.75,"color":"#ffffff"},{"offset":0.75,"color":"#333333"},{"offset":0.76875,"color":"#333333"},{"offset":0.76875,"color":"#ffffff"},{"offset":0.8125,"color":"#ffffff"},{"offset":0.8125,"color":"#333333"},{"offset":0.83125,"color":"#333333"},{"offset":0.83125,"color":"#ffffff"},{"offset":0.875,"color":"#ffffff"},{"offset":0.875,"color":"#333333"},{"offset":0.89375,"color":"#333333"},{"offset":0.89375,"color":"#ffffff"},{"offset":0.9375,"color":"#ffffff"},{"offset":0.9375,"color":"#333333"},{"offset":0.95625,"color":"#333333"},{"offset":0.95625,"color":"#ffffff"},{"offset":1,"color":"#ffffff"}]}},
 "encoding":{
  "x":{"field":"ech","type":"nominal","scale":{"type":"band","domain":["1","20","2","18","3","12","14","13","15","16","23"],"paddingInner":0,"paddingOuter":0.4075,"align":0.962},"axis":null},
  "xOffset":{"field":"rang","type":"ordinal","scale":{"type":"band","domain":[1,2,3,4,5,6],"paddingInner":0,"paddingOuter":0.76,"align":0}},
  "y":{"field":"v","type":"quantitative","scale":{"domain":[-188.39,155.56],"nice":false,"zero":false}},
  "y2":{"datum":0}}},
{"data":{"values":[{}]},"mark":{"type":"rule","stroke":"#333333","strokeWidth":2.5},
 "encoding":{
  "x":{"datum":"1","type":"nominal","bandPosition":0,"scale":{"type":"band","domain":["1","20","2","18","3","12","14","13","15","16","23"],"paddingInner":0,"paddingOuter":0.4075,"align":0.962},"axis":null},
  "x2":{"datum":"23","bandPosition":1},
  "y":{"datum":0,"type":"quantitative","scale":{"domain":[-188.39,155.56],"nice":false,"zero":false}}}},
{"data":{"values":[{"t":"B"}]},"mark":{"type":"point","shape":"circle","size":1600,"filled":true,"fill":"#ffffff","stroke":"#333333","strokeWidth":2,"opacity":1},
 "encoding":{
  "x":{"datum":"3","type":"nominal","bandPosition":0.5,"scale":{"type":"band","domain":["1","20","2","18","3","12","14","13","15","16","23"],"paddingInner":0,"paddingOuter":0.4075,"align":0.962},"axis":null},
  "y":{"datum":-4.3,"type":"quantitative","scale":{"domain":[-188.39,155.56],"nice":false,"zero":false}}}},
{"data":{"values":[{"t":"B"}]},"mark":{"type":"text","fontSize":24,"color":"#333333","align":"center","baseline":"middle"},
 "encoding":{
  "x":{"datum":"3","type":"nominal","bandPosition":0.5,"scale":{"type":"band","domain":["1","20","2","18","3","12","14","13","15","16","23"],"paddingInner":0,"paddingOuter":0.4075,"align":0.962},"axis":null},
  "y":{"datum":-4.3,"type":"quantitative","scale":{"domain":[-188.39,155.56],"nice":false,"zero":false}},
  "text":{"field":"t"}}}
]
},
{
"layer": [
{"data":{"name":"courbes"},"transform":[{"filter":"datum.p == 'C'"}],
 "mark":{"type":"line","stroke":"#333333","strokeCap":"butt"},
 "encoding":{
  "x":{"field":"ech","type":"nominal","bandPosition":0,"scale":{"type":"band","domain":["1","20","2","18","3","12","14","13","15","16","23"],"paddingInner":0,"paddingOuter":0.4075,"align":0.962},"axis":null},
  "y":{"field":"v","type":"quantitative","scale":{"domain":[-51.8,177.27],"nice":false,"zero":false},
   "axis":{"orient":"left","offset":-68,"values":[0,10,20,30,40,50,60],"format":".0f","title":null,"labelFontSize":23,"labelFont":"DejaVu Sans","labelColor":"#333333","labelPadding":2,"tickSize":6,"tickWidth":2,"tickColor":"#333333","domain":false,"grid":false}},
  "strokeDash":{"field":"el","type":"nominal","scale":{"domain":["Si","Ca","Al","Fe","Fe2","Mg","K","Na","Ti"],"range":[[9,6],[22,9],[2.5,4.5],[13,4,2.5,4,2.5,4],[13,4,2.5,4,2.5,4],[1,0],[22,9],[2.5,4.5],[13,4,2.5,4,2.5,4]]},"legend":null},
  "strokeWidth":{"field":"el","type":"nominal","scale":{"domain":["Si","Ca","Al","Fe","Fe2","Mg","K","Na","Ti"],"range":[3,2.5,2.5,2.5,2.5,5.5,3,2.5,2.5]},"legend":null},
  "order":{"field":"i","type":"quantitative"}}},
{"data":{"values":[{}]},"mark":{"type":"rect","fill":"#ffffff","stroke":null},
 "encoding":{
  "x":{"datum":"12","type":"nominal","bandPosition":0.83,"scale":{"type":"band","domain":["1","20","2","18","3","12","14","13","15","16","23"],"paddingInner":0,"paddingOuter":0.4075,"align":0.962},"axis":null},
  "x2":{"datum":"13","bandPosition":0.24},
  "y":{"datum":57.14,"type":"quantitative","scale":{"domain":[-51.8,177.27],"nice":false,"zero":false}},
  "y2":{"datum":61.04}}},
{"data":{"values":[{}]},"mark":{"type":"rule","stroke":"#333333","strokeWidth":4},
 "encoding":{"y":{"datum":66.4,"type":"quantitative","scale":{"domain":[-51.8,177.27],"nice":false,"zero":false}}}},
{"data":{"values":[{}]},"mark":{"type":"rule","stroke":"#333333","strokeWidth":2.5},
 "encoding":{
  "x":{"datum":"1","type":"nominal","bandPosition":-0.19,"scale":{"type":"band","domain":["1","20","2","18","3","12","14","13","15","16","23"],"paddingInner":0,"paddingOuter":0.4075,"align":0.962},"axis":null},
  "x2":{"datum":"23","bandPosition":0.53},
  "y":{"datum":0,"type":"quantitative","scale":{"domain":[-51.8,177.27],"nice":false,"zero":false}}}},
{"data":{"values":[{}]},"mark":{"type":"rule","stroke":"#333333","strokeWidth":2.5},
 "encoding":{
  "x":{"datum":"14","type":"nominal","bandPosition":0.106,"scale":{"type":"band","domain":["1","20","2","18","3","12","14","13","15","16","23"],"paddingInner":0,"paddingOuter":0.4075,"align":0.962},"axis":null},
  "x2":{"datum":"12","bandPosition":0.83},
  "y":{"datum":52.32,"type":"quantitative","scale":{"domain":[-51.8,177.27],"nice":false,"zero":false}},
  "y2":{"datum":55.8}}},
{"data":{"values":[{}]},"mark":{"type":"point","shape":"triangle-up","size":170,"angle":311,"filled":true,"fill":"#333333","stroke":"#333333","opacity":1},
 "encoding":{
  "x":{"datum":"12","type":"nominal","bandPosition":0.85,"scale":{"type":"band","domain":["1","20","2","18","3","12","14","13","15","16","23"],"paddingInner":0,"paddingOuter":0.4075,"align":0.962},"axis":null},
  "y":{"datum":55.64,"type":"quantitative","scale":{"domain":[-51.8,177.27],"nice":false,"zero":false}}}},
{"data":{"values":[{"t":"CELLULE"}]},"mark":{"type":"text","fontSize":27,"color":"#333333","align":"center","baseline":"middle"},
 "encoding":{
  "x":{"datum":"12","type":"nominal","bandPosition":0.868,"scale":{"type":"band","domain":["1","20","2","18","3","12","14","13","15","16","23"],"paddingInner":0,"paddingOuter":0.4075,"align":0.962},"axis":null},
  "y":{"datum":59.22,"type":"quantitative","scale":{"domain":[-51.8,177.27],"nice":false,"zero":false}},
  "text":{"field":"t"}}},
{"data":{"values":[{"t":"DE"}]},"mark":{"type":"text","fontSize":27,"color":"#333333","align":"center","baseline":"middle"},
 "encoding":{
  "x":{"datum":"14","type":"nominal","bandPosition":0.96,"scale":{"type":"band","domain":["1","20","2","18","3","12","14","13","15","16","23"],"paddingInner":0,"paddingOuter":0.4075,"align":0.962},"axis":null},
  "y":{"datum":59.22,"type":"quantitative","scale":{"domain":[-51.8,177.27],"nice":false,"zero":false}},
  "text":{"field":"t"}}},
{"data":{"values":[{"t":"BARTH"}]},"mark":{"type":"text","fontSize":27,"color":"#333333","align":"center","baseline":"middle"},
 "encoding":{
  "x":{"datum":"13","type":"nominal","bandPosition":0.93,"scale":{"type":"band","domain":["1","20","2","18","3","12","14","13","15","16","23"],"paddingInner":0,"paddingOuter":0.4075,"align":0.962},"axis":null},
  "y":{"datum":59.22,"type":"quantitative","scale":{"domain":[-51.8,177.27],"nice":false,"zero":false}},
  "text":{"field":"t"}}},
{"data":{"values":[{"t":"Si"}]},"mark":{"type":"text","fontSize":23,"color":"#333333","align":"center","baseline":"middle"},
 "encoding":{
  "x":{"datum":"14","type":"nominal","bandPosition":0.255,"scale":{"type":"band","domain":["1","20","2","18","3","12","14","13","15","16","23"],"paddingInner":0,"paddingOuter":0.4075,"align":0.962},"axis":null},
  "y":{"datum":50.5,"type":"quantitative","scale":{"domain":[-51.8,177.27],"nice":false,"zero":false}},
  "text":{"field":"t"}}},
{"data":{"values":[{"t":"Mg"}]},"mark":{"type":"text","fontSize":23,"color":"#333333","align":"center","baseline":"middle"},
 "encoding":{
  "x":{"datum":"20","type":"nominal","bandPosition":0.366,"scale":{"type":"band","domain":["1","20","2","18","3","12","14","13","15","16","23"],"paddingInner":0,"paddingOuter":0.4075,"align":0.962},"axis":null},
  "y":{"datum":2.34,"type":"quantitative","scale":{"domain":[-51.8,177.27],"nice":false,"zero":false}},
  "text":{"field":"t"}}},
{"data":{"values":[{"t":"Al"}]},"mark":{"type":"text","fontSize":23,"color":"#333333","align":"center","baseline":"middle"},
 "encoding":{
  "x":{"datum":"12","type":"nominal","bandPosition":0.233,"scale":{"type":"band","domain":["1","20","2","18","3","12","14","13","15","16","23"],"paddingInner":0,"paddingOuter":0.4075,"align":0.962},"axis":null},
  "y":{"datum":19.78,"type":"quantitative","scale":{"domain":[-51.8,177.27],"nice":false,"zero":false}},
  "text":{"field":"t"}}},
{"data":{"values":[{"t":"Fe"}]},"mark":{"type":"text","fontSize":23,"color":"#333333","align":"center","baseline":"middle"},
 "encoding":{
  "x":{"datum":"15","type":"nominal","bandPosition":0.352,"scale":{"type":"band","domain":["1","20","2","18","3","12","14","13","15","16","23"],"paddingInner":0,"paddingOuter":0.4075,"align":0.962},"axis":null},
  "y":{"datum":9.76,"type":"quantitative","scale":{"domain":[-51.8,177.27],"nice":false,"zero":false}},
  "text":{"field":"t"}}},
{"data":{"values":[{"t":"Ca"}]},"mark":{"type":"text","fontSize":23,"color":"#333333","align":"center","baseline":"middle"},
 "encoding":{
  "x":{"datum":"14","type":"nominal","bandPosition":0.493,"scale":{"type":"band","domain":["1","20","2","18","3","12","14","13","15","16","23"],"paddingInner":0,"paddingOuter":0.4075,"align":0.962},"axis":null},
  "y":{"datum":2.6,"type":"quantitative","scale":{"domain":[-51.8,177.27],"nice":false,"zero":false}},
  "text":{"field":"t"}}},
{"data":{"values":[{"t":"C"}]},"mark":{"type":"point","shape":"circle","size":1600,"filled":true,"fill":"#ffffff","stroke":"#333333","strokeWidth":2,"opacity":1},
 "encoding":{
  "x":{"datum":"3","type":"nominal","bandPosition":0.5,"scale":{"type":"band","domain":["1","20","2","18","3","12","14","13","15","16","23"],"paddingInner":0,"paddingOuter":0.4075,"align":0.962},"axis":null},
  "y":{"datum":-3.12,"type":"quantitative","scale":{"domain":[-51.8,177.27],"nice":false,"zero":false}}}},
{"data":{"values":[{"t":"C"}]},"mark":{"type":"text","fontSize":24,"color":"#333333","align":"center","baseline":"middle"},
 "encoding":{
  "x":{"datum":"3","type":"nominal","bandPosition":0.5,"scale":{"type":"band","domain":["1","20","2","18","3","12","14","13","15","16","23"],"paddingInner":0,"paddingOuter":0.4075,"align":0.962},"axis":null},
  "y":{"datum":-3.12,"type":"quantitative","scale":{"domain":[-51.8,177.27],"nice":false,"zero":false}},
  "text":{"field":"t"}}}
]
},
{
"layer": [
{"data":{"name":"courbes"},"transform":[{"filter":"datum.p == 'D'"}],
 "mark":{"type":"line","stroke":"#333333","strokeCap":"butt"},
 "encoding":{
  "x":{"field":"ech","type":"nominal","bandPosition":0,"scale":{"type":"band","domain":["1","20","2","18","3","12","14","13","15","16","23"],"paddingInner":0,"paddingOuter":0.4075,"align":0.962},"axis":null},
  "y":{"field":"v","type":"quantitative","scale":{"domain":[-1.703,75.15],"nice":false,"zero":false},
   "axis":{"orient":"left","offset":-68,"values":[0,2.5,5,7.5,10,12.5],"format":".1~f","labelExpr":"datum.value > 11 ? '' : replace(datum.label, '.', ',')","title":"GISEMENT","titleX":-53,"titleY":1580,"titleAngle":270,"titleAlign":"center","titleBaseline":"middle","titleFontSize":21,"titleFontWeight":"bold","titleFont":"DejaVu Sans","titleColor":"#333333","labelFontSize":23,"labelFont":"DejaVu Sans","labelColor":"#333333","labelPadding":2,"tickSize":6,"tickWidth":2,"tickColor":"#333333","domain":false,"grid":false}},
  "strokeDash":{"field":"el","type":"nominal","scale":{"domain":["Si","Ca","Al","Fe","Fe2","Mg","K","Na","Ti"],"range":[[9,6],[22,9],[2.5,4.5],[13,4,2.5,4,2.5,4],[13,4,2.5,4,2.5,4],[1,0],[22,9],[2.5,4.5],[13,4,2.5,4,2.5,4]]},"legend":null},
  "strokeWidth":{"field":"el","type":"nominal","scale":{"domain":["Si","Ca","Al","Fe","Fe2","Mg","K","Na","Ti"],"range":[3,2.5,2.5,2.5,2.5,5.5,3,2.5,2.5]},"legend":null},
  "order":{"field":"i","type":"quantitative"}}},
{"data":{"values":[{}]},"mark":{"type":"rule","stroke":"#333333","strokeWidth":2.5},
 "encoding":{
  "x":{"datum":"1","type":"nominal","bandPosition":-0.19,"scale":{"type":"band","domain":["1","20","2","18","3","12","14","13","15","16","23"],"paddingInner":0,"paddingOuter":0.4075,"align":0.962},"axis":null},
  "x2":{"datum":"23","bandPosition":0.57},
  "y":{"datum":0,"type":"quantitative","scale":{"domain":[-1.703,75.15],"nice":false,"zero":false}}}},
{"data":{"name":"ech"},"mark":{"type":"rule","stroke":"#333333","strokeWidth":2},
 "encoding":{
  "x":{"field":"ech","type":"nominal","bandPosition":0,"scale":{"type":"band","domain":["1","20","2","18","3","12","14","13","15","16","23"],"paddingInner":0,"paddingOuter":0.4075,"align":0.962},"axis":null},
  "y":{"datum":68.34,"type":"quantitative","scale":{"domain":[-1.703,75.15],"nice":false,"zero":false}},
  "y2":{"datum":0}}},
{"data":{"values":[{"t":"K"}]},"mark":{"type":"text","fontSize":23,"color":"#333333","align":"center","baseline":"middle"},
 "encoding":{
  "x":{"datum":"14","type":"nominal","bandPosition":0.502,"scale":{"type":"band","domain":["1","20","2","18","3","12","14","13","15","16","23"],"paddingInner":0,"paddingOuter":0.4075,"align":0.962},"axis":null},
  "y":{"datum":4.45,"type":"quantitative","scale":{"domain":[-1.703,75.15],"nice":false,"zero":false}},
  "text":{"field":"t"}}},
{"data":{"values":[{"t":"Na"}]},"mark":{"type":"text","fontSize":23,"color":"#333333","align":"center","baseline":"middle"},
 "encoding":{
  "x":{"datum":"12","type":"nominal","bandPosition":0.233,"scale":{"type":"band","domain":["1","20","2","18","3","12","14","13","15","16","23"],"paddingInner":0,"paddingOuter":0.4075,"align":0.962},"axis":null},
  "y":{"datum":2.1,"type":"quantitative","scale":{"domain":[-1.703,75.15],"nice":false,"zero":false}},
  "text":{"field":"t"}}},
{"data":{"values":[{"t":"Ti"}]},"mark":{"type":"text","fontSize":23,"color":"#333333","align":"center","baseline":"middle"},
 "encoding":{
  "x":{"datum":"13","type":"nominal","bandPosition":0.392,"scale":{"type":"band","domain":["1","20","2","18","3","12","14","13","15","16","23"],"paddingInner":0,"paddingOuter":0.4075,"align":0.962},"axis":null},
  "y":{"datum":1.75,"type":"quantitative","scale":{"domain":[-1.703,75.15],"nice":false,"zero":false}},
  "text":{"field":"t"}}},
{"data":{"values":[{"t":"D"}]},"mark":{"type":"point","shape":"circle","size":1300,"filled":true,"fill":"#ffffff","stroke":"#333333","strokeWidth":2,"opacity":1},
 "encoding":{
  "x":{"datum":"3","type":"nominal","bandPosition":0.5,"scale":{"type":"band","domain":["1","20","2","18","3","12","14","13","15","16","23"],"paddingInner":0,"paddingOuter":0.4075,"align":0.962},"axis":null},
  "y":{"datum":-1.09,"type":"quantitative","scale":{"domain":[-1.703,75.15],"nice":false,"zero":false}}}},
{"data":{"values":[{"t":"D"}]},"mark":{"type":"text","fontSize":24,"color":"#333333","align":"center","baseline":"middle"},
 "encoding":{
  "x":{"datum":"3","type":"nominal","bandPosition":0.5,"scale":{"type":"band","domain":["1","20","2","18","3","12","14","13","15","16","23"],"paddingInner":0,"paddingOuter":0.4075,"align":0.962},"axis":null},
  "y":{"datum":-1.09,"type":"quantitative","scale":{"domain":[-1.703,75.15],"nice":false,"zero":false}},
  "text":{"field":"t"}}}
]
}
]
},
{
"layer": [
{"data":{"name":"bande"},
 "mark":{"type":"bar","orient":"horizontal","stroke":"#333333","strokeWidth":1.5},
 "encoding":{
  "x":{"field":"f","type":"quantitative","stack":"zero","scale":{"domain":[-0.784,11.031],"nice":false,"zero":false},"axis":null},
  "y":{"datum":60.25,"type":"quantitative","scale":{"domain":[-269.8,70.1],"nice":false,"zero":false},"axis":null},
  "y2":{"datum":57.94},
  "order":{"field":"s","type":"quantitative"},
  "color":{"field":"part","type":"nominal","scale":{"domain":["noir","blanc"],"range":["#333333","#ffffff"]},"legend":null}}},
{"data":{"values":[{"t":"N"}]},"mark":{"type":"text","fontSize":22,"color":"#333333","align":"center","baseline":"middle"},
 "encoding":{
  "x":{"datum":0.075,"type":"quantitative","scale":{"domain":[-0.784,11.031],"nice":false,"zero":false},"axis":null},
  "y":{"datum":64.8,"type":"quantitative","scale":{"domain":[-269.8,70.1],"nice":false,"zero":false},"axis":null},
  "text":{"field":"t"}}},
{"data":{"values":[{"t":"S"}]},"mark":{"type":"text","fontSize":23,"color":"#333333","align":"center","baseline":"middle"},
 "encoding":{
  "x":{"datum":10.73,"type":"quantitative","scale":{"domain":[-0.784,11.031],"nice":false,"zero":false},"axis":null},
  "y":{"datum":65.95,"type":"quantitative","scale":{"domain":[-269.8,70.1],"nice":false,"zero":false},"axis":null},
  "text":{"field":"t"}}},
{"data":{"values":[{"t":"No:"}]},"mark":{"type":"text","fontSize":17,"color":"#333333","align":"center","baseline":"middle"},
 "encoding":{
  "x":{"datum":-0.608,"type":"quantitative","scale":{"domain":[-0.784,11.031],"nice":false,"zero":false},"axis":null},
  "y":{"datum":64.7,"type":"quantitative","scale":{"domain":[-269.8,70.1],"nice":false,"zero":false},"axis":null},
  "text":{"field":"t"}}},
{"data":{"values":[{"t":"ech."}]},"mark":{"type":"text","fontSize":18,"color":"#333333","align":"center","baseline":"middle"},
 "encoding":{
  "x":{"datum":-0.414,"type":"quantitative","scale":{"domain":[-0.784,11.031],"nice":false,"zero":false},"axis":null},
  "y":{"datum":61.2,"type":"quantitative","scale":{"domain":[-269.8,70.1],"nice":false,"zero":false},"axis":null},
  "text":{"field":"t"}}}
]
}
],
"resolve": {"scale": {"x": "independent", "y": "independent"}}
}
